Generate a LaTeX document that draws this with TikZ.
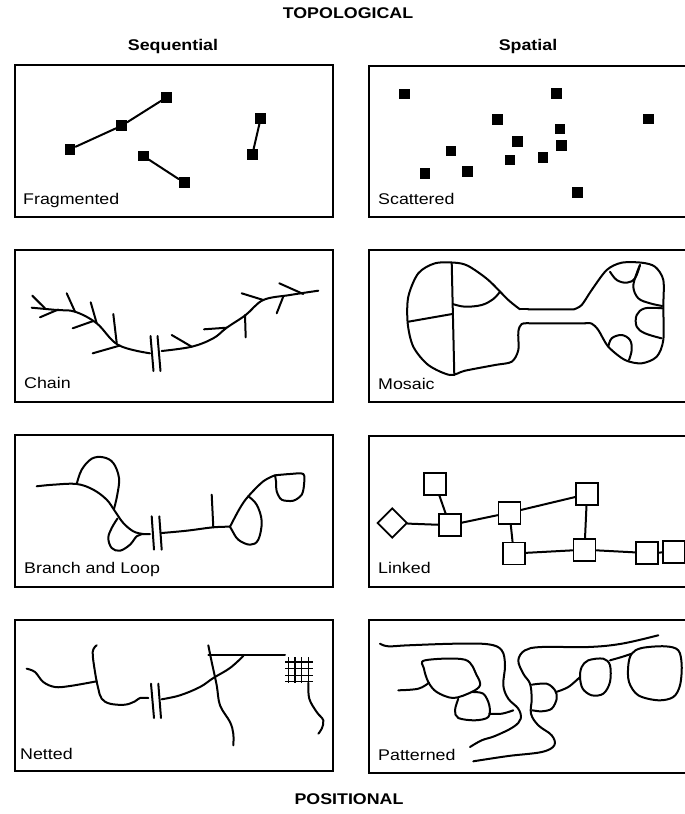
\documentclass[tikz,border=0pt]{standalone}
\usepackage{fontspec}
\setmainfont{Liberation Sans}[FakeStretch=1.15]
\usetikzlibrary{shapes.geometric}
\begin{document}
\begin{tikzpicture}[x=1pt,y=-1pt,
  lbl/.style={anchor=base west,inner sep=0pt,font=\fontsize{15.5}{18}\selectfont},
  head/.style={inner sep=0pt,font=\bfseries\fontsize{15.5}{18}\selectfont},
  frame/.style={draw,line width=1.6pt},
  ln/.style={line width=2pt,line cap=round,line join=round},
  blk/.style={fill=black,draw=none,minimum size=10.5pt,inner sep=0pt},
  sq/.style={draw,line width=1.8pt,minimum size=22pt,inner sep=0pt},
  dia/.style={draw,line width=1.8pt,shape=diamond,aspect=1,minimum width=30pt,minimum height=30pt,inner sep=0pt}]
\useasboundingbox (0,0) rectangle (685,814);
\fill[white] (0,0) rectangle (685,814);
\clip (0,0) rectangle (685,814);

% headings
\node[head] (topo) at (348,13) {TOPOLOGICAL};
\node[head] (seq) at (173,46) {Sequential};
\node[head] (spa) at (528,46) {Spatial};
\node[head] (pos) at (349,799) {POSITIONAL};

% frames
\draw[frame] (15,65) rectangle (333,217);
\draw[frame] (369,66) rectangle (700,217);
\draw[frame] (15,250) rectangle (333,402);
\draw[frame] (369,250) rectangle (700,402);
\draw[frame] (15,435) rectangle (333,587);
\draw[frame] (369,436) rectangle (700,587);
\draw[frame] (15,620) rectangle (333,771);
\draw[frame] (369,620) rectangle (700,773);

% labels
\node[lbl] (l1) at (23,204) {Fragmented};
\node[lbl] (l2) at (378,204) {Scattered};
\node[lbl] (l3) at (24,388) {Chain};
\node[lbl] (l4) at (378,389) {Mosaic};
\node[lbl] (l5) at (24,573) {Branch and Loop};
\node[lbl] (l6) at (378,573) {Linked};
\node[lbl] (l7) at (20,759) {Netted};
\node[lbl] (l8) at (378,760) {Patterned};

% ---------- Fragmented
\node[blk] (f1) at (70,149.3) {};
\node[blk] (f2) at (121.7,125.7) {};
\node[blk] (f3) at (166.7,97.3) {};
\node[blk] (f4) at (143.3,156) {};
\node[blk] (f5) at (184.3,182.7) {};
\node[blk] (f6) at (260.7,118.3) {};
\node[blk] (f7) at (252.3,154.7) {};
\draw[ln] (f1) -- (f2) -- (f3);
\draw[ln] (f4) -- (f5);
\draw[ln] (f7) -- (f6);

% ---------- Scattered
\node[blk] (s1) at (404.3,94) {};
\node[blk] (s2) at (556.7,93.3) {};
\node[blk] (s3) at (497.3,119.3) {};
\node[blk] (s4) at (648.3,119) {};
\node[blk] (s5) at (560,129) {};
\node[blk] (s6) at (517.7,141.7) {};
\node[blk] (s7) at (561.7,145.7) {};
\node[blk] (s8) at (451,151) {};
\node[blk] (s9) at (510,160) {};
\node[blk] (s10) at (543,157.7) {};
\node[blk] (s11) at (425,173.3) {};
\node[blk] (s12) at (467.7,171.7) {};
\node[blk] (s13) at (577.3,192.3) {};

% ---------- Chain
\draw[ln] plot[smooth,tension=0.6] coordinates {(31.7,307.7) (56.7,310) (75,311.7) (96.7,323.3) (118.3,345) (150,353.3)};
\draw[ln] plot[smooth,tension=0.6] coordinates {(161.7,351) (191.7,346.7) (213.3,338.3) (226.7,327.7) (245.7,315) (263.3,300) (290,295) (318.3,290.7)};
\draw[ln] (150.5,336) -- (153.5,371);
\draw[ln] (157.5,336) -- (160.5,371);
\draw[ln] (32.3,295.7) -- (45,308.3);
\draw[ln] (40,317.3) -- (58.3,309.5);
\draw[ln] (66.7,293.3) -- (75,311.7);
\draw[ln] (90.7,302.3) -- (96.7,323.3);
\draw[ln] (72.7,328.3) -- (93.3,321);
\draw[ln] (113.3,314) -- (116.7,343);
\draw[ln] (92.7,353.3) -- (120,345.5);
\draw[ln] (171.7,335) -- (191.7,346.7);
\draw[ln] (204,329.3) -- (226.7,327.7);
\draw[ln] (245,315) -- (245.7,337.3);
\draw[ln] (241.7,293.3) -- (263.3,300);
\draw[ln] (279.3,283.3) -- (303.3,294);
\draw[ln] (283.3,296.5) -- (276.7,313.3);

% ---------- Mosaic
\draw[ln] plot[smooth,tension=0.5] coordinates {(520,309.3) (508.3,300) (488.3,280) (468.3,266) (455,262.7) (435,263.3) (418.3,273.3) (408.3,296.7) (407.7,323.3) (413.3,346.7) (428.3,365) (450,375) (465,370.7) (495,365) (511.7,361.7) (518.3,350) (518.3,331.7) (521.7,324) (530,323.3)}
  -- (585,323.3);
\draw[ln] plot[smooth,tension=0.5] coordinates {(585,323.3) (591.7,323.6) (598.3,330) (608.3,346.7) (625,360) (641.7,363.3) (656.7,356.7) (663.3,340) (663.3,306.7) (663.3,280) (655,266.7) (641.7,262.7) (621.7,262.7) (606.7,270) (591.7,290) (581.7,305) (574,309.3)}
  -- (528,309.3);
\draw[ln] (528,309.3) -- (520,309.3);
\draw[ln] (451.7,262.7) -- (454.3,375);
\draw[ln] (408.3,321.7) -- (452.3,314);
\draw[ln] plot[smooth,tension=0.6] coordinates {(452.7,304) (465,306.7) (481.7,305) (493.3,299) (500,291.7)};
\draw[ln] plot[smooth,tension=0.6] coordinates {(610,271.7) (616.7,280) (626.7,282.7) (635,278.3) (640,265)};
\draw[ln] plot[smooth,tension=0.6] coordinates {(640,265) (636.7,273.3) (633.3,286.7) (638.3,298.3) (650,303.3) (662.3,306)};
\draw[ln] plot[smooth,tension=0.6] coordinates {(662.3,308.3) (645,308.3) (636.7,315) (636.7,326.7) (645,333.3) (661.5,338.3)};
\draw[ln] plot[smooth,tension=0.6] coordinates {(608.3,346.7) (611.7,338.3) (621.7,335) (630,340) (631.7,350) (629,360)};

% ---------- Branch and Loop
\draw[ln] plot[smooth,tension=0.6] coordinates {(36.7,486.3) (53.3,484.7) (76.7,484) (93.3,489.7) (106.7,499.7) (115,511.3) (123.3,523) (133.3,531.3) (143.3,534) (150,534)};
\draw[ln] plot[smooth,tension=0.6] coordinates {(76.7,484) (81.7,469.7) (91.7,458.7) (103.3,457.3) (113.3,463) (119,478) (117.3,494.7) (114,509)};
\draw[ln] plot[smooth,tension=0.6] coordinates {(117.5,518.5) (111.7,528) (108.3,538) (111.7,548) (120,550.7) (130,544.7) (136.7,536.3) (143,534)};
\draw[ln] (151.7,516.3) -- (154,549.7);
\draw[ln] (159.3,516.3) -- (161.7,549.7);
\draw[ln] plot[smooth,tension=0.6] coordinates {(161.7,533) (186.7,530.7) (213.3,527.3) (230,526.7)};
\draw[ln] (211.7,494.7) -- (213.3,527.3);
\draw[ln] plot[smooth,tension=0.6] coordinates {(230,526.7) (240,508) (248.3,496.3) (263.3,481.3) (275,475.3)};
\draw[ln] plot[smooth,tension=0.6] coordinates {(248.3,496.3) (256.7,504.7) (261.7,521.3) (258.3,539.7) (250,544.7) (238.3,539.7) (231.7,529.7) (230,526.7)};
\draw[ln] plot[smooth,tension=0.5] coordinates {(275,475.3) (290,474) (303.3,474) (304,484.7) (301.7,494.7) (293.3,500.7) (281.7,499.7) (276.7,491.3) (276,481.3) (275,475.3)};

% ---------- Linked
\node[dia] (d0) at (392.3,523) {};
\node[sq] (k1) at (435.3,483.8) {};
\node[sq] (k2) at (449.7,525.2) {};
\node[sq] (k3) at (509.5,512.7) {};
\node[sq] (k4) at (587,494.2) {};
\node[sq] (k5) at (513.8,553.5) {};
\node[sq] (k6) at (584.5,549.7) {};
\node[sq] (k7) at (646.8,553) {};
\node[sq] (k8) at (674,552) {};
\draw[ln] (d0) -- (k2);
\draw[ln] (k1) -- (k2);
\draw[ln] (k2) -- (k3);
\draw[ln] (k3) -- (k4);
\draw[ln] (k3) -- (k5);
\draw[ln] (k4) -- (k6);
\draw[ln] (k5) -- (k6);
\draw[ln] (k6) -- (k7);
\draw[ln] (k7) -- (k8);

% ---------- Netted
\draw[ln] plot[smooth,tension=0.6] coordinates {(26.7,668.7) (35,672) (43.3,682) (55,687) (70,686) (96.7,681.3)};
\draw[ln] plot[smooth,tension=0.6] coordinates {(96.7,645.3) (92.7,652) (95,672) (98.3,688.7) (101.7,698.7) (110,703.7) (125,704.7) (135,701.3) (140,698) (148.3,698)};
\draw[ln] (151,683.7) -- (154,718);
\draw[ln] (158.3,683.7) -- (161,718);
\draw[ln] plot[smooth,tension=0.6] coordinates {(161.7,699.3) (180,695.3) (200,687) (213.3,678) (230,668) (243.3,656)};
\draw[ln] (208.3,655.3) -- (285,655.3);
\draw[ln] plot[smooth,tension=0.6] coordinates {(208.3,645.3) (211.7,662) (216.7,685.3) (220,705.3) (230,722) (233.3,733.7) (233.3,745.3)};
\foreach \yy in {662,668.7,675.3,681.3} \draw[line width=1.5pt] (285,\yy) -- (312.7,\yy);
\foreach \xx in {288.3,295,301.7,308.3} \draw[line width=1.5pt] (\xx,657) -- (\xx,682.7);
\draw[ln] plot[smooth,tension=0.6] coordinates {(308.3,682.7) (309.3,698.7) (316.7,712) (323.3,720.3) (321.7,728.7) (318.3,733.7)};

% ---------- Patterned
\draw[ln] plot[smooth,tension=0.6] coordinates {(380,643.7) (388.3,646.3) (408.3,645.3) (455,643.7) (488.3,644.3) (501.7,650.3) (505,665.3) (503.3,685.3) (508.3,698.7) (518.3,708.7) (520.7,718.7) (513.3,727) (495,736) (481.7,740.3) (470,747)};
\draw[ln] plot[smooth,tension=0.6] coordinates {(658.3,635.3) (621.7,643.7) (588.3,647) (541.7,647) (525,650.3) (518.3,660.3) (523.3,673.7) (530,683.7) (531.7,698.7) (531,713.7) (538.3,725.3) (551.7,735.3) (554.3,745.3) (541.7,752) (508.3,756) (473.3,761.3)};
\draw[ln] plot[smooth cycle,tension=0.55] coordinates {(425,660.3) (465,659.7) (476.7,675.3) (480,685.3) (471.7,692) (453.3,698) (436.7,692) (428.3,682) (424,668.7)};
\draw[ln] plot[smooth,tension=0.6] coordinates {(398.3,690.3) (418.3,688.7) (429,682.7)};
\draw[ln] plot[smooth,tension=0.55] coordinates {(458.3,698.7) (455,710.3) (458.3,718) (475,720.3) (488.3,717) (489.3,705.3) (483.3,693.7) (471.7,692)};
\draw[ln] plot[smooth,tension=0.6] coordinates {(489.3,713.7) (501.7,713.7) (513.3,710.3)};
\draw[ln] plot[smooth,tension=0.55] coordinates {(531.7,684.7) (546.7,683.7) (555,690.3) (556.7,698.7) (551.7,708.7) (541.7,711.3) (532.3,710.3)};
\draw[ln] plot[smooth,tension=0.6] coordinates {(556,692) (568.3,687) (580,677)};
\draw[ln] plot[smooth cycle,tension=0.55] coordinates {(581.7,667) (588.3,660.3) (603.3,658.7) (610,665.3) (610,682) (603.3,693.7) (591.7,695.3) (582.7,688.7) (580,677)};
\draw[ln] plot[smooth,tension=0.6] coordinates {(610,660.3) (621.7,657) (631.7,653.7)};
\draw[ln] plot[smooth cycle,tension=0.55] coordinates {(631.7,653.7) (641.7,648) (665,646.3) (678.3,650.3) (681.7,665.3) (680,685.3) (673.3,697) (658.3,700.3) (638.3,695.3) (629,682) (628.3,665.3)};
\end{tikzpicture}
\end{document}
